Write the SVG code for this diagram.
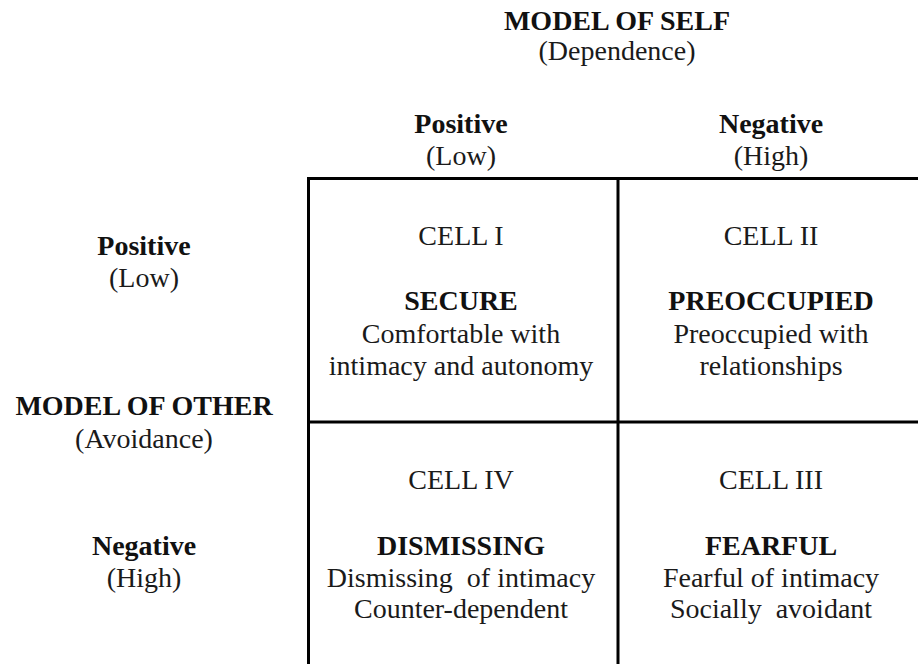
<svg xmlns="http://www.w3.org/2000/svg" width="918" height="664" viewBox="0 0 918 664">
<style>
text{font-family:'Liberation Serif','Times New Roman','DejaVu Serif',serif;font-size:28px;fill:#1a1a1a;text-anchor:middle}
.b{font-weight:bold;fill:#111}
.pre{white-space:pre}
line{stroke:#000;stroke-width:3}
</style>
<rect width="918" height="664" fill="#fff"/>
<g id="grid">
<line x1="307" y1="178.5" x2="918" y2="178.5"/>
<line x1="308.5" y1="177" x2="308.5" y2="664"/>
<line x1="618" y1="177" x2="618" y2="664"/>
<line x1="307" y1="422" x2="918" y2="422"/>
</g>
<g id="header-self">
<text class="b" x="617" y="30">MODEL OF SELF</text>
<text x="617" y="60">(Dependence)</text>
</g>
<g id="header-col1">
<text class="b" x="461" y="133">Positive</text>
<text x="461" y="165">(Low)</text>
</g>
<g id="header-col2">
<text class="b" x="771" y="133">Negative</text>
<text x="771" y="165">(High)</text>
</g>
<g id="header-other">
<text class="b" x="144" y="415">MODEL OF OTHER</text>
<text x="144" y="448">(Avoidance)</text>
</g>
<g id="row1">
<text class="b" x="144" y="255">Positive</text>
<text x="144" y="287">(Low)</text>
</g>
<g id="row2">
<text class="b" x="144" y="555">Negative</text>
<text x="144" y="587">(High)</text>
</g>
<g id="cell1">
<text x="461" y="245">CELL I</text>
<text class="b" x="461" y="310">SECURE</text>
<text x="461" y="343">Comfortable with</text>
<text x="461" y="375">intimacy and autonomy</text>
</g>
<g id="cell2">
<text x="771" y="245">CELL II</text>
<text class="b" x="771" y="310">PREOCCUPIED</text>
<text x="771" y="343">Preoccupied with</text>
<text x="771" y="375">relationships</text>
</g>
<g id="cell4">
<text x="461" y="489">CELL IV</text>
<text class="b" x="461" y="555">DISMISSING</text>
<text class="pre" x="461" y="587">Dismissing  of intimacy</text>
<text x="461" y="618">Counter-dependent</text>
</g>
<g id="cell3">
<text x="771" y="489">CELL III</text>
<text class="b" x="771" y="555">FEARFUL</text>
<text x="771" y="587">Fearful of intimacy</text>
<text class="pre" x="771" y="618">Socially  avoidant</text>
</g>
</svg>
